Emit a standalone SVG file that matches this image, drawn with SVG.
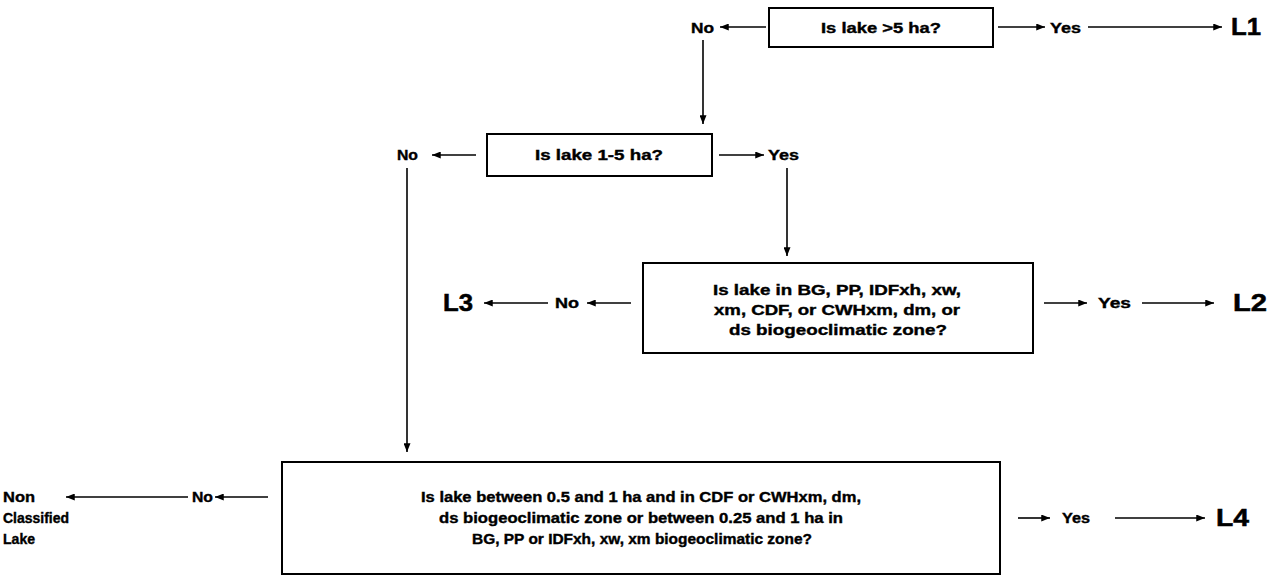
<svg xmlns="http://www.w3.org/2000/svg" width="1276" height="578" viewBox="0 0 1276 578">
<defs>
<marker id="ah" viewBox="0 0 10 8" refX="10" refY="4" markerWidth="9" markerHeight="7" markerUnits="userSpaceOnUse" orient="auto">
<path d="M0,0 L10,4 L0,8 z" fill="#000"/>
</marker>
</defs>
<style>
.box{fill:#fff;stroke:#000;stroke-width:2}
.t{font-family:"Liberation Sans",Arial,sans-serif;font-weight:bold;font-size:15px;fill:#000;stroke:#000;stroke-width:0.4}
.m{text-anchor:middle}
.big{font-family:"Liberation Sans",Arial,sans-serif;font-weight:bold;font-size:23px;fill:#000;stroke:#000;stroke-width:0.5}
.c{fill:none;stroke:#000;stroke-width:1.6;marker-end:url(#ah)}
</style>
<rect width="1276" height="578" fill="#fff"/>

<g id="connectors">
<line class="c" x1="766" y1="27" x2="720" y2="27"/>
<line class="c" x1="998" y1="27" x2="1045" y2="27"/>
<line class="c" x1="1088" y1="27" x2="1222" y2="27"/>
<line class="c" x1="703" y1="40" x2="703" y2="124"/>
<line class="c" x1="476" y1="155" x2="432" y2="155"/>
<line class="c" x1="719" y1="155" x2="764" y2="155"/>
<line class="c" x1="407" y1="168" x2="407" y2="452"/>
<line class="c" x1="787" y1="168" x2="787" y2="256"/>
<line class="c" x1="631" y1="303" x2="587" y2="303"/>
<line class="c" x1="548" y1="303" x2="484" y2="303"/>
<line class="c" x1="1044" y1="303" x2="1087" y2="303"/>
<line class="c" x1="1142" y1="303" x2="1214" y2="303"/>
<line class="c" x1="268" y1="497" x2="215" y2="497"/>
<line class="c" x1="188" y1="497" x2="66" y2="497"/>
<line class="c" x1="1018" y1="518" x2="1050" y2="518"/>
<line class="c" x1="1115" y1="518" x2="1205" y2="518"/>
</g>

<g id="n1">
<rect class="box" x="769" y="8" width="224" height="39"/>
<text class="t m" x="881" y="32.5" textLength="120" lengthAdjust="spacingAndGlyphs">Is lake &gt;5 ha?</text>
</g>

<g id="n2">
<rect class="box" x="487" y="134" width="225" height="42"/>
<text class="t m" x="599" y="159.5" textLength="128" lengthAdjust="spacingAndGlyphs">Is lake 1-5 ha?</text>
</g>

<g id="n3">
<rect class="box" x="643" y="263" width="390" height="90"/>
<text class="t m" x="837" y="295" textLength="248" lengthAdjust="spacingAndGlyphs">Is lake in BG, PP, IDFxh, xw,</text>
<text class="t m" x="837" y="315" textLength="246" lengthAdjust="spacingAndGlyphs">xm, CDF, or CWHxm, dm, or</text>
<text class="t m" x="838" y="335" textLength="218" lengthAdjust="spacingAndGlyphs">ds biogeoclimatic zone?</text>
</g>

<g id="n4">
<rect class="box" x="282" y="462" width="718" height="112"/>
<text class="t m" x="641" y="502" textLength="440" lengthAdjust="spacingAndGlyphs">Is lake between 0.5 and 1 ha and in CDF or CWHxm, dm,</text>
<text class="t m" x="641" y="523" textLength="404" lengthAdjust="spacingAndGlyphs">ds biogeoclimatic zone or between 0.25 and 1 ha in</text>
<text class="t m" x="642" y="544" textLength="340" lengthAdjust="spacingAndGlyphs">BG, PP or IDFxh, xw, xm biogeoclimatic zone?</text>
</g>

<g id="labels">
<text class="t" x="691" y="32.5" textLength="23" lengthAdjust="spacingAndGlyphs">No</text>
<text class="t" x="1050" y="32.5" textLength="31" lengthAdjust="spacingAndGlyphs">Yes</text>
<text class="t" x="397" y="160" textLength="21" lengthAdjust="spacingAndGlyphs">No</text>
<text class="t" x="768" y="160" textLength="31" lengthAdjust="spacingAndGlyphs">Yes</text>
<text class="t" x="555" y="308" textLength="24" lengthAdjust="spacingAndGlyphs">No</text>
<text class="t" x="1098" y="308" textLength="33" lengthAdjust="spacingAndGlyphs">Yes</text>
<text class="t" x="192" y="502" textLength="21" lengthAdjust="spacingAndGlyphs">No</text>
<text class="t" x="1062" y="523" textLength="28" lengthAdjust="spacingAndGlyphs">Yes</text>
<text class="t" x="3" y="502" textLength="32" lengthAdjust="spacingAndGlyphs">Non</text>
<text class="t" x="3" y="523" textLength="66" lengthAdjust="spacingAndGlyphs">Classified</text>
<text class="t" x="3" y="544" textLength="32" lengthAdjust="spacingAndGlyphs">Lake</text>
</g>

<g id="L1"><text class="big" x="1231" y="35" textLength="30" lengthAdjust="spacingAndGlyphs">L1</text></g>
<g id="L2"><text class="big" x="1233" y="311" textLength="34" lengthAdjust="spacingAndGlyphs">L2</text></g>
<g id="L3"><text class="big" x="443" y="311" textLength="30" lengthAdjust="spacingAndGlyphs">L3</text></g>
<g id="L4"><text class="big" x="1216" y="526" textLength="33" lengthAdjust="spacingAndGlyphs">L4</text></g>
</svg>
